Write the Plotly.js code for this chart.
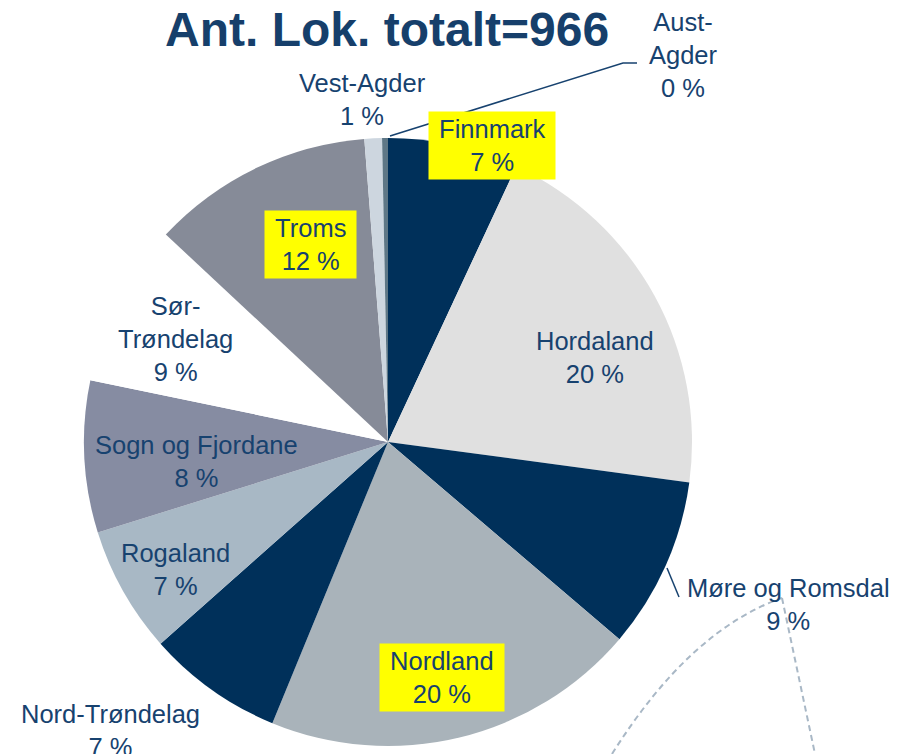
<!DOCTYPE html>
<html>
<head>
<meta charset="utf-8">
<script src="https://cdn.plot.ly/plotly-3.0.1.min.js"></script>
<style>
  html, body { margin: 0; padding: 0; background: #fff; }
  #chart { width: 899px; height: 754px; }
</style>
</head>
<body>
<div id="chart"></div>
<script>
// Antall lokaliteter per fylke (totalt 966), lest av figuren
const fylker = ['Finnmark', 'Hordaland', 'Møre og Romsdal', 'Nordland', 'Nord-Trøndelag', 'Rogaland',
  'Sogn og Fjordane', 'Sør-Trøndelag', 'Troms', 'Vest-Agder', 'Aust-Agder'];
const antall = [67, 195, 88, 193, 70, 65, 78, 84, 114, 9, 3];
const farger = ['#00305A', '#E0E0E0', '#00305A', '#A9B3BA', '#00305A', '#A8B8C5',
  '#868CA2', '#FFFFFF', '#868B98', '#CDD6DF', '#5E7786'];
const etiketter = ['Finnmark<br>7 %', 'Hordaland<br>20 %', 'Møre og Romsdal<br>9 %', 'Nordland<br>20 %',
  'Nord-Trøndelag<br>7 %', 'Rogaland<br>7 %', 'Sogn og Fjordane<br>8 %', 'Sør-<br>Trøndelag<br>9 %',
  'Troms<br>12 %', 'Vest-Agder<br>1 %', 'Aust-<br>Agder<br>0 %'];
const tittel = 'Ant. Lok. totalt=966';

const W = 899, H = 754;
const px = x => x / W;
const py = y => 1 - y / H;

// label placement (pixel centres) and which ones get a yellow box
const labelPos = {
  'Finnmark': [492, 145, true],
  'Hordaland': [595, 357, false],
  'Møre og Romsdal': [788, 604, false],
  'Nordland': [442, 677, true],
  'Nord-Trøndelag': [110, 730, false],
  'Rogaland': [175, 569, false],
  'Sogn og Fjordane': [196, 461, false],
  'Sør-Trøndelag': [175, 339, false],
  'Troms': [310, 245, true],
  'Vest-Agder': [362, 100, false],
  'Aust-Agder': [683, 55, false]
};

const textColor = '#17426F';
const pad = '\u00A0';

const annotations = fylker.map((f, i) => {
  const [x, y, box] = labelPos[f];
  const txt = box ? etiketter[i].split('<br>').map(s => pad + s + pad).join('<br>') : etiketter[i];
  return {
    text: txt,
    x: px(x), y: py(y), xref: 'paper', yref: 'paper',
    xanchor: 'center', yanchor: 'middle',
    showarrow: false,
    align: 'center',
    font: { family: 'Liberation Sans, Arial, sans-serif', size: 25.5, color: textColor },
    bgcolor: box ? '#FFFF00' : 'rgba(0,0,0,0)',
    borderpad: box ? 3 : 0
  };
});

annotations.push({
  text: '<b>' + tittel + '</b>',
  x: px(387), y: py(30), xref: 'paper', yref: 'paper',
  xanchor: 'center', yanchor: 'middle', showarrow: false,
  font: { family: 'Liberation Sans, Arial, sans-serif', size: 48, color: '#163F6B' }
});

const leader = { color: textColor, width: 1.5 };
const dashed = { color: '#A9B8C6', width: 2, dash: '6px,4px' };

const shapes = [
  { type: 'path', xref: 'paper', yref: 'paper', line: leader,
    path: `M ${px(390)} ${py(136)} L ${px(623)} ${py(63)} L ${px(637)} ${py(63)}` },
  { type: 'line', xref: 'paper', yref: 'paper', line: leader,
    x0: px(667), y0: py(568), x1: px(679), y1: py(597) },
  { type: 'path', xref: 'paper', yref: 'paper', line: dashed,
    path: `M ${px(612)} ${py(754)} Q ${px(690)} ${py(630)} ${px(782)} ${py(598)}` },
  { type: 'line', xref: 'paper', yref: 'paper', line: dashed,
    x0: px(782), y0: py(598), x1: px(815), y1: py(754) }
];

const cx = 388, cy = 442, r = 304;

const trace = {
  type: 'pie',
  labels: fylker,
  values: antall,
  sort: false,
  direction: 'clockwise',
  rotation: 0,
  textinfo: 'none',
  hoverinfo: 'label+value+percent',
  marker: { colors: farger, line: { width: 0 } },
  domain: { x: [px(cx - r), px(cx + r)], y: [py(cy + r), py(cy - r)] },
  showlegend: false
};

Plotly.newPlot('chart', [trace], {
  width: W, height: H,
  margin: { l: 0, r: 0, t: 0, b: 0 },
  paper_bgcolor: '#fff',
  showlegend: false,
  annotations,
  shapes
}, { displayModeBar: false, staticPlot: true });
</script>
</body>
</html>
